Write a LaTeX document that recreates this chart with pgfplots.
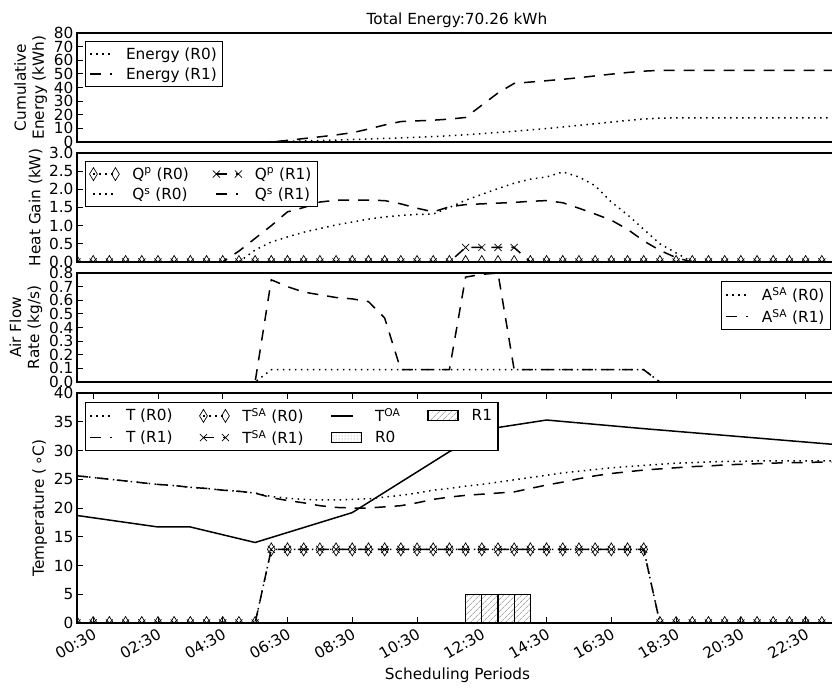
\documentclass[border=0pt]{standalone}
\usepackage{fontspec}
\setmainfont{DejaVu Sans}
\usepackage{pgfplots}
\usepackage{pgfplotstable}
\pgfplotsset{compat=1.18}
\usetikzlibrary{patterns,patterns.meta}

\pgfplotstableread{
i E0 E1 QP0 QP1 QS0 QS1 A0 A1 T0 T1 TS
0 0 0 0 0 0 0 0 0 25.6 25.6 0
1 0 0 0 0 0 0 0 0 25.3 25.3 0
2 0 0 0 0 0 0 0 0 25.0 25.0 0
3 0 0 0 0 0 0 0 0 24.7 24.7 0
4 0 0 0 0 0 0 0 0 24.4 24.4 0
5 0 0 0 0 0 0 0 0 24.1 24.1 0
6 0 0 0 0 0 0 0 0 23.9 23.9 0
7 0 0 0 0 0 0 0 0 23.6 23.6 0
8 0 0 0 0 0 0 0 0 23.4 23.4 0
9 0 0 0 0 0 0 0 0 23.1 23.1 0
10 0 0 0 0 0 0.3 0 0 22.9 22.9 0
11 0 0 0 0 0.33 0.65 0 0 22.6 22.6 0
12 0.2 0 0 0 0.55 1.0 0.09 0.75 22.0 21.8 12.8
13 0.5 1.2 0 0 0.69 1.38 0.09 0.70 21.7 21.3 12.8
14 0.8 2.5 0 0 0.82 1.5 0.09 0.66 21.5 20.9 12.8
15 1.1 3.8 0 0 0.92 1.65 0.09 0.64 21.4 20.4 12.8
16 1.4 5.2 0 0 1.02 1.7 0.09 0.62 21.4 20.1 12.8
17 1.8 6.8 0 0 1.1 1.7 0.09 0.61 21.5 20.0 12.8
18 2.2 9.5 0 0 1.18 1.7 0.09 0.59 21.6 20.0 12.8
19 2.6 12.5 0 0 1.24 1.69 0.09 0.47 21.9 20.2 12.8
20 3.0 15.0 0 0 1.28 1.6 0.09 0.09 22.2 20.4 12.8
21 3.5 15.5 0 0 1.31 1.48 0.09 0.09 22.6 20.9 12.8
22 4.0 16.0 0 0 1.32 1.38 0.09 0.09 23.1 21.5 12.8
23 4.6 16.8 0 0 1.5 1.52 0.09 0.09 23.4 21.9 12.8
24 5.3 18.0 0 0.4 1.7 1.58 0.09 0.77 23.8 22.2 12.8
25 6.1 27.0 0 0.4 1.86 1.6 0.09 0.79 24.1 22.4 12.8
26 7.0 36.0 0 0.4 2.02 1.62 0.09 0.80 24.5 22.6 12.8
27 7.9 43.0 0 0.4 2.17 1.64 0.09 0.09 24.9 22.8 12.8
28 8.9 44.0 0 0 2.28 1.67 0.09 0.09 25.3 23.4 12.8
29 9.9 45.0 0 0 2.34 1.69 0.09 0.09 25.7 24.0 12.8
30 11.0 46.0 0 0 2.48 1.63 0.09 0.09 26.1 24.5 12.8
31 12.2 47.2 0 0 2.34 1.48 0.09 0.09 26.4 25.1 12.8
32 13.4 48.5 0 0 2.1 1.32 0.09 0.09 26.7 25.6 12.8
33 14.6 49.8 0 0 1.65 1.15 0.09 0.09 27.0 26.0 12.8
34 15.8 51.0 0 0 1.3 0.9 0.09 0.09 27.2 26.3 12.8
35 16.9 52.0 0 0 0.9 0.58 0.09 0.09 27.4 26.6 12.8
36 17.5 52.6 0 0 0.5 0.32 0 0 27.6 26.8 0
37 17.7 52.6 0 0 0.25 0.12 0 0 27.8 27.0 0
38 17.7 52.6 0 0 0 0 0 0 27.9 27.2 0
39 17.7 52.6 0 0 0 0 0 0 28.0 27.3 0
40 17.7 52.6 0 0 0 0 0 0 28.1 27.5 0
41 17.7 52.6 0 0 0 0 0 0 28.1 27.6 0
42 17.7 52.6 0 0 0 0 0 0 28.2 27.7 0
43 17.7 52.6 0 0 0 0 0 0 28.2 27.8 0
44 17.7 52.6 0 0 0 0 0 0 28.2 27.9 0
45 17.7 52.6 0 0 0 0 0 0 28.2 27.9 0
46 17.7 52.6 0 0 0 0 0 0 28.2 28.0 0
47 17.7 52.6 0 0 0 0 0 0 28.2 28.0 0
}\data

\pgfplotstableread{
i TOA
0 18.7
5 16.7
7 16.7
11 14.0
17 19.2
23 29.8
26 34.0
29 35.3
35 33.8
41 32.4
47 31.0
}\toa

\newcommand{\fs}{\fontsize{15.3}{18}\selectfont}

\tikzset{
  r0/.style={black, line width=1.5pt, dash pattern=on 1.5pt off 4.5pt},
  r1/.style={black, line width=1.5pt, dash pattern=on 11pt off 9pt},
  dm/.style={mark=diamond, mark size=6.5pt, mark options={solid, fill=white, line width=0.7pt, xscale=0.8}},
  xm/.style={mark=x, mark size=5pt, mark options={solid, line width=0.7pt}},
}

\pgfplotsset{
  panel/.style={
    scale only axis, width=761pt, xmin=0, xmax=47,
    clip marker paths=true,
    tick align=inside, major tick length=6pt,
    tick style={black, line width=0.9pt},
    axis line style={line width=1.3pt},
    tick label style={font=\fs},
    label style={font=\fs},
    /pgf/number format/assume math mode=true,
    legend cell align=left,
    legend style={draw=black, line width=1.1pt, font=\fs, inner xsep=4pt, inner ysep=4pt, row sep=3pt,
      /tikz/every odd column/.append style={column sep=11pt}},
    legend image code/.code={\draw[mark repeat=1,##1] plot coordinates {(0pt,0pt) (22pt,0pt)};},
  },
  barleg/.style={legend image code/.code={\draw[##1] (0pt,-5pt) rectangle (30pt,5pt);}},
}

\begin{document}
\begin{tikzpicture}[x=1pt,y=1pt]

% Panel 1: cumulative energy
\begin{axis}[panel, at={(77pt,546pt)}, anchor=south west, height=109pt,
  ymin=0, ymax=80, ytick={0,10,...,80}, xtick=\empty,
  ylabel={Cumulative\\Energy (kWh)}, ylabel style={align=center},
  legend style={at={(0,1)}, anchor=north west, xshift=8pt, yshift=-8pt}]
\addplot[r0, forget plot] table[x=i,y=E0]{\data};
\addplot[r1, forget plot] table[x=i,y=E1]{\data};
\addlegendimage{r0}\addlegendentry{Energy (R0)}
\addlegendimage{r1}\addlegendentry{Energy (R1)}
\end{axis}

% Panel 2: heat gain
\begin{axis}[panel, at={(77pt,426pt)}, anchor=south west, height=109pt,
  ymin=0, ymax=3, ytick={0,0.5,1,1.5,2,2.5,3}, xtick=\empty,
  yticklabel style={/pgf/number format/.cd, fixed, fixed zerofill, precision=1},
  ylabel={Heat Gain (kW)},
  legend columns=2,
  legend style={at={(0,1)}, anchor=north west, xshift=8pt, yshift=-8pt,
    /tikz/every even column/.append style={column sep=22pt}}]
\addplot[r0, dm, forget plot] table[x=i,y=QP0]{\data};
\addplot[r0, forget plot] table[x=i,y=QS0]{\data};
\addplot[r1, xm, forget plot] table[x=i,y=QP1]{\data};
\addplot[r1, forget plot] table[x=i,y=QS1]{\data};
\addlegendimage{r0,dm}\addlegendentry{Q\textsuperscript{p} (R0)}
\addlegendimage{r1,xm}\addlegendentry{Q\textsuperscript{p} (R1)}
\addlegendimage{r0}\addlegendentry{Q\textsuperscript{s} (R0)}
\addlegendimage{r1}\addlegendentry{Q\textsuperscript{s} (R1)}
\end{axis}

% Panel 3: air flow
\begin{axis}[panel, at={(77pt,306pt)}, anchor=south west, height=109pt,
  ymin=0, ymax=0.8, ytick={0,0.1,0.2,0.3,0.4,0.5,0.6,0.7,0.8}, xtick=\empty,
  yticklabel style={/pgf/number format/.cd, fixed, fixed zerofill, precision=1},
  ylabel={Air Flow\\Rate (kg/s)}, ylabel style={align=center},
  legend style={at={(1,1)}, anchor=north east, xshift=-7pt, yshift=-8pt}]
\addplot[r0, forget plot] table[x=i,y=A0]{\data};
\addplot[r1, forget plot] table[x=i,y=A1]{\data};
\addlegendimage{r0}\addlegendentry{A\textsuperscript{SA} (R0)}
\addlegendimage{r1}\addlegendentry{A\textsuperscript{SA} (R1)}
\end{axis}

% Panel 4: temperature
\begin{axis}[panel, at={(77pt,65pt)}, anchor=south west, height=230pt,
  ymin=0, ymax=40, ytick={0,5,...,40},
  xtick={1,5,9,13,17,21,25,29,33,37,41,45},
  xticklabels={00:30,02:30,04:30,06:30,08:30,10:30,12:30,14:30,16:30,18:30,20:30,22:30},
  xticklabel style={rotate=30, anchor=north east},
  xlabel={Scheduling Periods},
  ylabel={Temperature (\,∘C)},
  legend columns=4,
  legend style={at={(0,1)}, anchor=north west, xshift=8pt, yshift=-9pt,
    /tikz/every even column/.append style={column sep=25pt}}]
\addplot[r0, forget plot] table[x=i,y=T0]{\data};
\addplot[r1, forget plot] table[x=i,y=T1]{\data};
\addplot[r0, dm, forget plot] table[x=i,y=TS]{\data};
\addplot[r1, xm, forget plot] table[x=i,y=TS]{\data};
\addplot[black, line width=1.5pt, forget plot] table[x=i,y=TOA]{\toa};
\addplot[ybar, bar width=1, draw=black, line width=1.2pt,
  pattern={Lines[angle=45,distance=4pt,line width=0.6pt]}, pattern color=gray, forget plot]
  coordinates {(24.5,5) (25.5,5) (26.5,5) (27.5,5)};
\addlegendimage{r0}\addlegendentry{T (R0)}
\addlegendimage{r0,dm}\addlegendentry{T\textsuperscript{SA} (R0)}
\addlegendimage{black,line width=1.5pt}\addlegendentry{T\textsuperscript{OA}}
\addlegendimage{barleg, draw=black, line width=1.2pt, pattern={Lines[angle=45,distance=4pt,line width=0.6pt]}, pattern color=gray}\addlegendentry{R1}
\addlegendimage{r1}\addlegendentry{T (R1)}
\addlegendimage{r1,xm}\addlegendentry{T\textsuperscript{SA} (R1)}
\addlegendimage{barleg, draw=black, line width=1.2pt, pattern={Dots[distance=3pt,radius=0.5pt]}, pattern color=gray}\addlegendentry{R0}
\end{axis}

\node[font=\fs, anchor=base] at (457pt,663pt) {Total Energy:70.26 kWh};

\pgfresetboundingbox
\useasboundingbox (0pt,0pt) rectangle (832pt,688pt);
\end{tikzpicture}
\end{document}
